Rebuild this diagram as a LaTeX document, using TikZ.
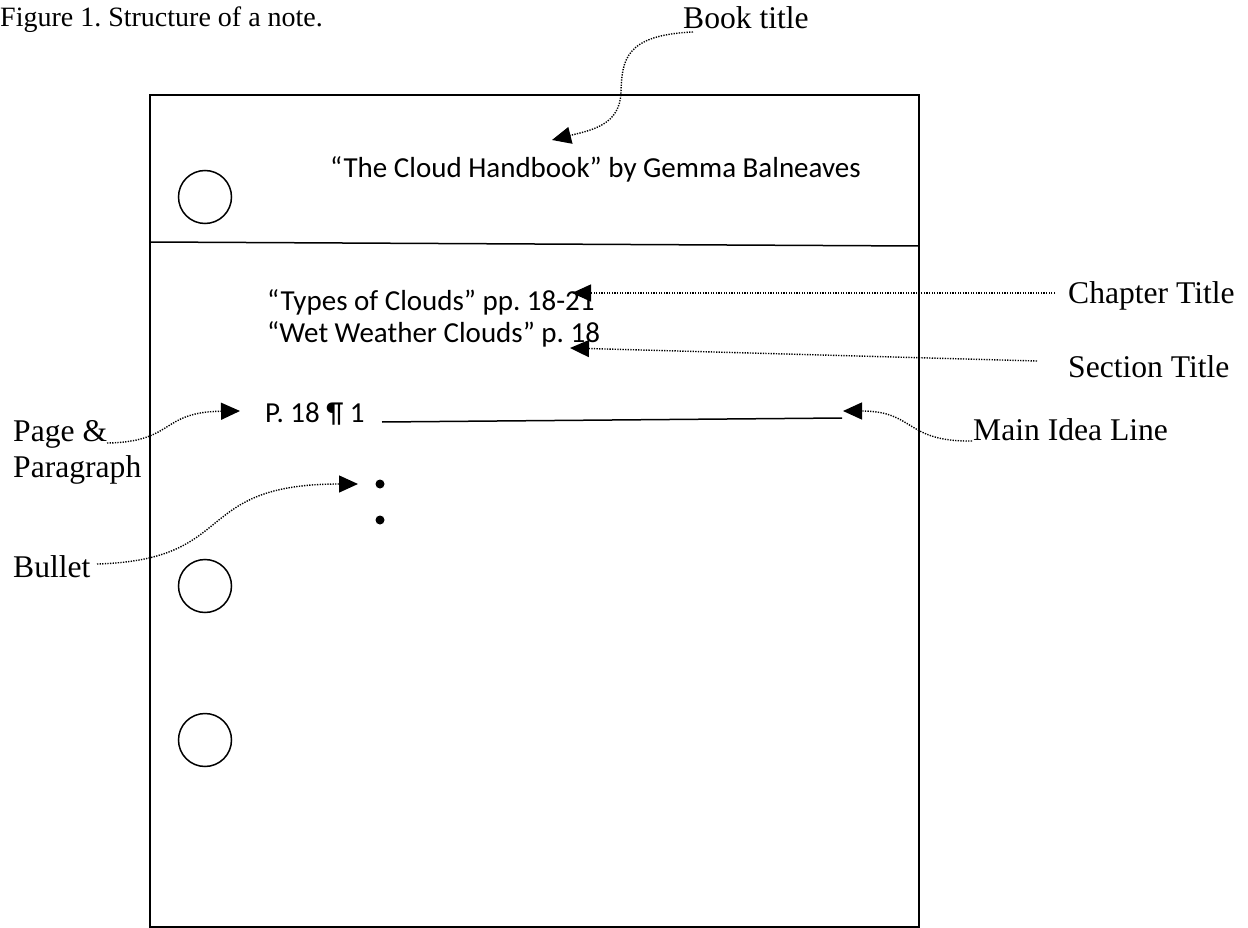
\documentclass[tikz,border=0pt]{standalone}
\usepackage{fontspec}
\setmainfont{Liberation Serif}
\newfontfamily\calibri{Carlito}
\usetikzlibrary{arrows.meta}
\frenchspacing
\begin{document}
\begin{tikzpicture}[x=1pt,y=-1pt,
  frame/.style={line width=1.5pt},
  lbl/.style={anchor=base west,inner sep=0pt,font=\fontsize{31.6}{36}\selectfont},
  note/.style={anchor=base west,inner sep=0pt,font=\calibri\fontsize{29}{34}\selectfont},
  pointer/.style={line width=1.4pt,dash pattern=on 1.3pt off 1.3pt,-{Triangle[length=19pt,width=17pt]}},
  hole/.style={draw,circle,line width=1.5pt,minimum size=53pt,inner sep=0pt}]
\useasboundingbox (0,0) rectangle (1248,928);
% sheet
\draw[frame] (150,95) rectangle (919,927);
\draw[frame] (150,242) -- (919,246);
\node[hole] (h1) at (205,197) {};
\node[hole] (h2) at (205,586) {};
\node[hole] (h3) at (205,740) {};
% caption and labels
\node[lbl,font=\fontsize{28}{32}\selectfont] (cap) at (0,27) {Figure 1. Structure of a note.};
\node[lbl] (book) at (683,29) {Book title};
\node[lbl] (chap) at (1068,303) {Chapter Title};
\node[lbl] (sect) at (1068,377) {Section Title};
\node[lbl] (main) at (973,440) {Main Idea Line};
\node[lbl] (page) at (13,441) {Page \&};
\node[lbl] (para) at (13,477) {Paragraph};
\node[lbl] (bul) at (13,577) {Bullet};
% note contents
\node[note] (title) at (330,178) {“The Cloud Handbook” by Gemma Balneaves};
\node[note] (types) at (267,310) {“Types of Clouds” pp. 18-21};
\node[note] (wet) at (267,342) {“Wet Weather Clouds” p. 18};
\node[note] (pnum) at (265,422) {P. 18 ¶ 1};
\coordinate (mlS) at (382,422);
\coordinate (mlE) at (842,418);
\draw[line width=1.5pt] (mlS) -- (mlE);
\fill (380,484) circle (4.5pt) coordinate (b1);
\fill (380,520) circle (4.5pt) coordinate (b2);
% pointer ends
\coordinate (bookS) at (693,32);
\coordinate (bookT) at (552,140);
\coordinate (chapS) at (1055,293);
\coordinate (chapT) at (572,293);
\coordinate (sectS) at (1037,361);
\coordinate (sectT) at (570,348);
\coordinate (mainS) at (972,441);
\coordinate (mainT) at (843,411);
\coordinate (pageS) at (107,443);
\coordinate (pageT) at (240,411);
\coordinate (bulS) at (97,564);
\coordinate (bulT) at (358,484);
% pointers
\draw[pointer] (bookS) .. controls (625,35) and (622,60) .. (621,92) .. controls (620,125) and (592,130) .. (bookT);
\draw[pointer] (chapS) -- (chapT);
\draw[pointer] (sectS) -- (sectT);
\draw[pointer] (mainS) .. controls (905,442) and (915,411) .. (mainT);
\draw[pointer] (pageS) .. controls (175,442) and (160,412) .. (pageT);
\draw[pointer] (bulS) .. controls (240,560) and (190,484) .. (bulT);
\end{tikzpicture}
\end{document}
